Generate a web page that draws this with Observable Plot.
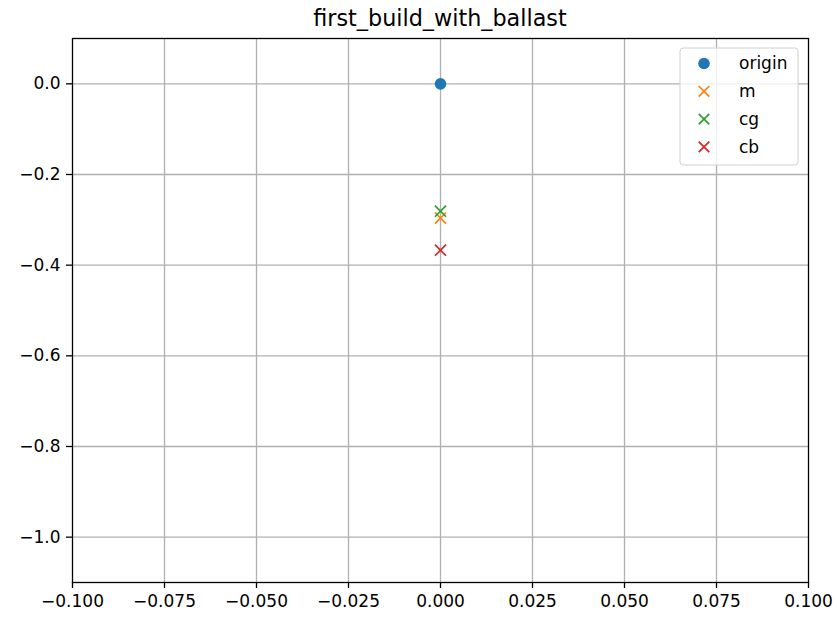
<!DOCTYPE html>
<html>
<head>
<meta charset="utf-8">
<script src="https://cdn.jsdelivr.net/npm/d3@7"></script>
<script src="https://cdn.jsdelivr.net/npm/@observablehq/plot@0.6"></script>
<style>
  body { margin: 0; background: #fff; }
  #chart { width: 837px; height: 617px; position: relative; }
  #title { position: absolute; left: 72px; width: 736px; top: 4px; text-align: center;
           font-family: "DejaVu Sans", sans-serif; font-size: 22.3px; color: #000; line-height: 28px; }
  #chart svg text { font-family: "DejaVu Sans", sans-serif; font-size: 17px; fill: #000; }
</style>
</head>
<body>
<div id="chart"><div id="title">first_build_with_ballast</div></div>
<script>
// Point positions (x, y) of each reference point
const names = ["origin", "m", "cg", "cb"];
const xs = [0.0, 0.0, 0.0, 0.0];
const ys = [0.0, -0.296, -0.281, -0.367];
const colors = ["#1f77b4", "#ff7f0e", "#2ca02c", "#d62728"];
const symbols = ["circle", "times", "times", "times"];

const xTicks = [-0.1, -0.075, -0.05, -0.025, 0, 0.025, 0.05, 0.075, 0.1];
const yTicks = [-1.0, -0.8, -0.6, -0.4, -0.2, 0.0];

const points = names.map((n, i) => ({name: n, x: xs[i], y: ys[i], color: colors[i], symbol: symbols[i]}));
const minus = s => s.replace("-", "\u2212");
const fmtX = d => minus(d3.format(".3f")(d));
const fmtY = d => minus(d3.format(".1f")(d));

const W = 837, H = 617;
const plot = Plot.plot({
  width: W, height: H,
  marginLeft: 72, marginRight: 29, marginTop: 38, marginBottom: 35,
  style: {background: "transparent", color: "#000"},
  x: {domain: [-0.1, 0.1], label: null},
  y: {domain: [-1.1, 0.1], label: null},
  marks: [
    Plot.ruleX(xTicks.slice(1, -1), {stroke: "#b0b0b0", strokeWidth: 1.3, strokeOpacity: 1}),
    Plot.ruleY(yTicks, {stroke: "#b0b0b0", strokeWidth: 1.3, strokeOpacity: 1}),
    Plot.axisX({ticks: xTicks, tickFormat: fmtX, label: null, tickSize: 6, tickPadding: 6, strokeWidth: 1.3}),
    Plot.axisY({ticks: yTicks, tickFormat: fmtY, label: null, tickSize: 6, tickPadding: 6, strokeWidth: 1.3}),
    Plot.dot(points.filter(d => d.symbol === "circle"), {x: "x", y: "y", fill: d => d.color, r: 5.8, symbol: "circle"}),
    Plot.dot(points.filter(d => d.symbol === "times"), {x: "x", y: "y", stroke: d => d.color, r: 5.1, strokeWidth: 1.7, symbol: "times"}),
    Plot.frame({stroke: "#000", strokeWidth: 1.3})
  ]
});
document.getElementById("chart").appendChild(plot);

// Legend box in the upper right of the axes
const svg = d3.select(plot);
const lg = svg.append("g").attr("transform", "translate(680,48)");
lg.append("rect").attr("width", 118).attr("height", 117).attr("rx", 3)
  .attr("fill", "#fff").attr("fill-opacity", 0.8).attr("stroke", "#d0d0d0");
points.forEach((d, i) => {
  const cy = 15.5 + i * 27.8;
  if (d.symbol === "circle") {
    lg.append("circle").attr("cx", 24).attr("cy", cy).attr("r", 5.8).attr("fill", d.color);
  } else {
    const h = 5.3;
    lg.append("path").attr("d", `M${24 - h},${cy - h}L${24 + h},${cy + h}M${24 - h},${cy + h}L${24 + h},${cy - h}`)
      .attr("stroke", d.color).attr("stroke-width", 1.7).attr("fill", "none");
  }
  lg.append("text").attr("x", 59).attr("y", cy).attr("dy", "0.35em")
    .attr("text-anchor", "start").text(d.name);
});
</script>
</body>
</html>
